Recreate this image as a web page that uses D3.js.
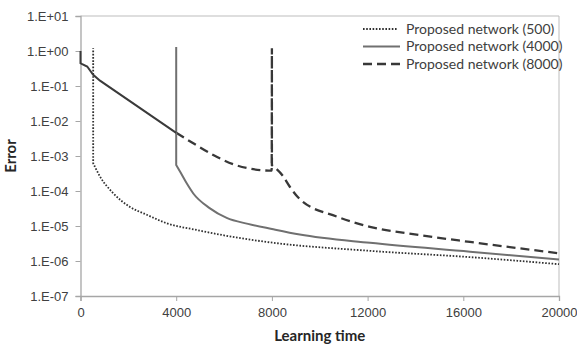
<!DOCTYPE html>
<html>
<head>
<meta charset="utf-8">
<script src="https://cdn.jsdelivr.net/npm/d3@7"></script>
<style>
  body { margin: 0; background: #fff; overflow: hidden; }
  svg { font-family: Lato, "Open Sans", sans-serif; display: block; }
  .tick text { fill: #404040; font-size: 13px; }
  .axis-label { fill: #262626; font-size: 15px; font-weight: bold; }
  .legend-text { fill: #404040; font-size: 14px; }
</style>
</head>
<body>
<div id="chart"></div>
<script>
// shared learning phase (all three nets start from the same run)
const sharedTime  = [0, 0, 50, 280, 530, 815, 4000];
const sharedError = [1.0, 0.45, 0.43, 0.36, 0.21, 0.142, 0.0046];

// Proposed network (500)
const time500  = [530, 530, 530, 815, 1371, 2069, 2767, 3603, 4857, 6000, 7930, 12100, 16280, 20000];
const error500 = [0.21, 1.2, 6.2e-4, 2.6e-4, 8.6e-5, 3.5e-5, 2.1e-5, 1.2e-5, 7.7e-6, 5.4e-6, 3.4e-6, 1.95e-6, 1.29e-6, 8.1e-7];

// Proposed network (4000)
const time4000  = [4000, 4000, 4000, 4159, 4439, 4715, 5412, 6110, 7000, 8000, 9164, 12100, 16280, 20000];
const error4000 = [0.0046, 1.3, 5.5e-4, 3.6e-4, 1.66e-4, 8.5e-5, 3.2e-5, 1.7e-5, 1.15e-5, 8.2e-6, 5.7e-6, 3.3e-6, 1.85e-6, 1.1e-6];

// Proposed network (8000)
const time8000  = [4000, 4715, 5550, 6386, 7220, 7990, 8000, 8000, 8476, 8756, 9174, 10710, 12100, 14190, 16280, 20000];
const error8000 = [0.0046, 2.3e-3, 1.07e-3, 5.8e-4, 4.2e-4, 3.8e-4, 1.2, 5.5e-4, 2.6e-4, 1.3e-4, 5.8e-5, 1.86e-5, 9.5e-6, 5.5e-6, 3.5e-6, 1.66e-6];

const seriesNames = ["Proposed network (500)", "Proposed network (4000)", "Proposed network (8000)"];
const xTicks = [0, 4000, 8000, 12000, 16000, 20000];
const yTicks = [1e-7, 1e-6, 1e-5, 1e-4, 1e-3, 1e-2, 1e-1, 1, 10];

const width = 577, height = 345;
const margin = { left: 80.5, right: 18, top: 16, bottom: 49 };
const innerWidth = width - margin.left - margin.right;
const innerHeight = height - margin.top - margin.bottom;

const svg = d3.select("#chart").append("svg")
    .attr("width", width)
    .attr("height", height);

const g = svg.append("g")
    .attr("transform", `translate(${margin.left},${margin.top})`);

const xScale = d3.scaleLinear().domain([0, 20000]).range([0, innerWidth]);
const yScale = d3.scaleLog().domain([1e-7, 10]).range([innerHeight, 0]);

function fmtExp(v) {
    const e = Math.round(Math.log10(v));
    const s = e < 0 ? "-" : "+";
    return "1.E" + s + String(Math.abs(e)).padStart(2, "0");
}

// plot border (top + right)
g.append("path")
    .attr("d", `M0,0H${innerWidth}V${innerHeight}`)
    .attr("fill", "none")
    .attr("stroke", "#bdbdbd")
    .attr("stroke-width", 1);

const xAxisG = g.append("g")
    .attr("transform", `translate(0,${innerHeight})`)
    .call(d3.axisBottom(xScale).tickValues(xTicks).tickFormat(d3.format("d")).tickSize(5).tickPadding(7));
const yAxisG = g.append("g")
    .call(d3.axisLeft(yScale).tickValues(yTicks).tickFormat(fmtExp).tickSize(5).tickPadding(7));

[xAxisG, yAxisG].forEach(a => {
    a.select(".domain").attr("stroke", "#a6a6a6").attr("stroke-width", 1.3);
    a.selectAll(".tick line").attr("stroke", "#a6a6a6");
    a.selectAll(".tick text").attr("font-family", null).attr("font-size", null);
});
yAxisG.selectAll(".tick text").attr("dy", "0.35em");

function zip(t, e) { return t.map((v, i) => [v, e[i]]); }

// smooth runs joined by vertical jumps where time repeats
function pathFor(pts, curve) {
    const ln = d3.line()
        .x(d => xScale(d[0]))
        .y(d => yScale(d[1]))
        .curve(curve);
    const runs = [];
    let run = [pts[0]];
    for (let i = 1; i < pts.length; i++) {
        if (pts[i][0] === pts[i - 1][0]) {
            runs.push(run);
            runs.push([pts[i - 1], pts[i]]);
            run = [pts[i]];
        } else {
            run.push(pts[i]);
        }
    }
    runs.push(run);
    let d = "";
    runs.filter(r => r.length > 1).forEach((r, i) => {
        const s = ln(r);
        d += i === 0 ? s : "L" + s.slice(1);
    });
    return d;
}

const series = [
    { pts: zip(time500, error500), color: "#303030", width: 1.8, dash: "1.6,1.6" },
    { pts: zip(time8000, error8000), color: "#383838", width: 2.3, dash: "9,5" },
    { pts: zip(time4000, error4000), color: "#707070", width: 2, dash: null }
];

series.forEach(s => {
    g.append("path")
        .attr("d", pathFor(s.pts, d3.curveMonotoneX))
        .attr("fill", "none")
        .attr("stroke", s.color)
        .attr("stroke-width", s.width)
        .attr("stroke-dasharray", s.dash);
});

// shared phase, where the three runs overlap
g.append("path")
    .attr("d", pathFor(zip(sharedTime, sharedError), d3.curveLinear))
    .attr("fill", "none")
    .attr("stroke", "#3a3a3a")
    .attr("stroke-width", 2);

// axis titles
svg.append("text")
    .attr("class", "axis-label")
    .attr("x", margin.left + innerWidth / 2)
    .attr("y", 341)
    .attr("text-anchor", "middle")
    .text("Learning time");

svg.append("text")
    .attr("class", "axis-label")
    .attr("transform", `translate(16,${margin.top + innerHeight / 2}) rotate(-90)`)
    .attr("text-anchor", "middle")
    .text("Error");

// legend
const legendStyles = [
    { color: "#303030", width: 1.8, dash: "1.6,1.6", x2: 397 },
    { color: "#707070", width: 2, dash: null, x2: 400 },
    { color: "#383838", width: 2.3, dash: "9,5", x2: 402 }
];
const legend = svg.append("g");
seriesNames.forEach((name, i) => {
    const y = 29 + i * 17.5;
    const st = legendStyles[i];
    legend.append("line")
        .attr("x1", 363).attr("x2", st.x2)
        .attr("y1", y).attr("y2", y)
        .attr("stroke", st.color)
        .attr("stroke-width", st.width)
        .attr("stroke-dasharray", st.dash);
    legend.append("text")
        .attr("class", "legend-text")
        .attr("x", 406)
        .attr("y", y)
        .attr("dy", "0.35em")
        .text(name);
});
</script>
</body>
</html>
